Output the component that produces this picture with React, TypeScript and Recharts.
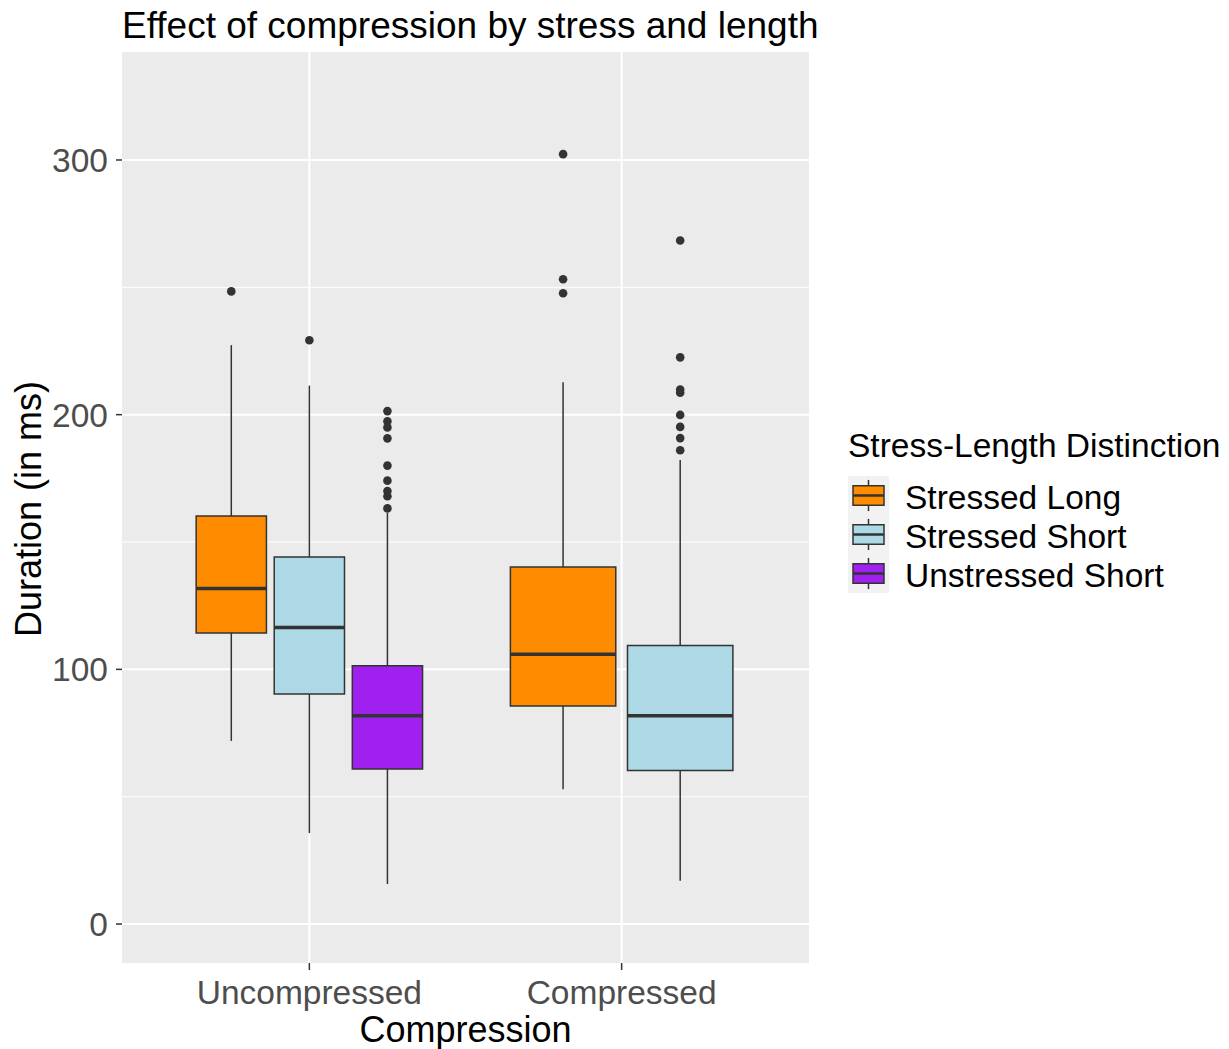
import React from "react";
import {
  ComposedChart,
  XAxis,
  YAxis,
  CartesianGrid,
  ReferenceArea,
  ReferenceLine,
  Scatter,
  Label,
} from "recharts";

const FONT = '"Liberation Sans", Arial, Helvetica, sans-serif';

const groups = ["Uncompressed", "Compressed"];
const seriesNames = ["Stressed Long", "Stressed Short", "Unstressed Short"];
const seriesColors = ["#FF8C00", "#ADD8E6", "#A020F0"];

// [lower whisker, Q1, median, Q3, upper whisker] for each compression group
const stressedLongBoxes = [
  [71.9, 114.3, 131.7, 160.2, 227.3],
  [52.9, 85.6, 105.9, 140.2, 212.7],
];
const stressedShortBoxes = [
  [35.7, 90.3, 116.4, 144.1, 211.4],
  [17.0, 60.3, 81.8, 109.4, 182.2],
];
const unstressedShortBoxes = [[15.7, 60.9, 81.8, 101.4, 161.4], null];

const stressedLongOutliers = [[248.4], [302.3, 253.2, 247.7]];
const stressedShortOutliers = [
  [229.2],
  [268.4, 222.5, 209.9, 208.6, 199.9, 195.2, 190.8, 186.0],
];
const unstressedShortOutliers = [
  [201.4, 197.4, 195.0, 190.7, 180.0, 174.1, 170.0, 168.0, 163.2],
  [],
];

const yTicks = [0, 100, 200, 300];
const yMinor = [50, 150, 250];

const boxesBySeries = [stressedLongBoxes, stressedShortBoxes, unstressedShortBoxes];
const outliersBySeries = [stressedLongOutliers, stressedShortOutliers, unstressedShortOutliers];

// dodge boxes inside each group like position_dodge2 (width 0.75, padding 0.1)
type Box = {
  series: number;
  center: number;
  half: number;
  stats: number[];
  outliers: number[];
};

const boxes: Box[] = [];
groups.forEach((_, g) => {
  const present = seriesNames
    .map((_, s) => s)
    .filter((s) => boxesBySeries[s][g] !== null);
  const slot = 0.75 / present.length;
  present.forEach((s, i) => {
    boxes.push({
      series: s,
      center: g + 1 + (i - (present.length - 1) / 2) * slot,
      half: (slot * 0.9) / 2,
      stats: boxesBySeries[s][g] as number[],
      outliers: outliersBySeries[s][g],
    });
  });
});

const outlierPoints = boxes.flatMap((b) =>
  b.outliers.map((v) => ({ x: b.center, y: v }))
);

const LINE = "#333333";

function LegendKey({ color }: { color: string }) {
  return (
    <svg width={41} height={39} style={{ display: "block" }}>
      <rect x={0} y={0} width={41} height={39} fill="#F2F2F2" />
      <line x1={20.5} x2={20.5} y1={3.9} y2={9.75} stroke={LINE} strokeWidth={1.5} />
      <line x1={20.5} x2={20.5} y1={29.25} y2={35.1} stroke={LINE} strokeWidth={1.5} />
      <rect x={5} y={9.75} width={31} height={19.5} fill={color} stroke={LINE} strokeWidth={1.5} />
      <line x1={5} x2={36} y1={19.5} y2={19.5} stroke={LINE} strokeWidth={2.5} />
    </svg>
  );
}

export default function App() {
  return (
    <div
      style={{
        position: "absolute",
        left: 0,
        top: 0,
        width: 1229,
        height: 1049,
        background: "#fff",
        fontFamily: FONT,
      }}
    >
      <div
        style={{
          position: "absolute",
          left: 122,
          top: 7,
          fontSize: 37,
          lineHeight: "37px",
          color: "#000",
          whiteSpace: "nowrap",
        }}
      >
        Effect of compression by stress and length
      </div>

      <ComposedChart
        width={1229}
        height={1049}
        margin={{ top: 52, right: 420, bottom: 0, left: 0 }}
        style={{ position: "absolute", left: 0, top: 0 }}
      >
        <CartesianGrid
          fill="#EBEBEB"
          stroke="#FFFFFF"
          strokeWidth={1}
          vertical={false}
          horizontalValues={yMinor}
        />
        <CartesianGrid
          stroke="#FFFFFF"
          strokeWidth={2}
          horizontalValues={yTicks}
          verticalValues={[1, 2]}
        />
        <XAxis
          type="number"
          dataKey="x"
          domain={[0.4, 2.6]}
          ticks={[1, 2]}
          allowDataOverflow
          height={86}
          tickFormatter={(v) => groups[Math.round(v) - 1] ?? ""}
          axisLine={false}
          tickSize={7}
          tickMargin={10}
          tickLine={{ stroke: LINE, strokeWidth: 1.5 }}
          tick={{ fill: "#4D4D4D", fontSize: 33.5, fontFamily: FONT }}
        >
          <Label
            content={() => (
              <text
                x={465.5}
                y={1042}
                textAnchor="middle"
                fontSize={36}
                fontFamily={FONT}
                fill="#000"
              >
                Compression
              </text>
            )}
          />
        </XAxis>
        <YAxis
          type="number"
          dataKey="y"
          domain={[-15.3, 342.4]}
          ticks={yTicks}
          allowDataOverflow
          width={122}
          axisLine={false}
          tickSize={6}
          tickMargin={8}
          tickLine={{ stroke: LINE, strokeWidth: 1.5 }}
          tick={{ fill: "#4D4D4D", fontSize: 33.5, fontFamily: FONT }}
        >
          <Label
            content={() => (
              <text
                x={41}
                y={509}
                transform="rotate(-90 41 509)"
                textAnchor="middle"
                fontSize={36}
                fontFamily={FONT}
                fill="#000"
              >
                Duration (in ms)
              </text>
            )}
          />
        </YAxis>

        {boxes.flatMap((b, i) => {
          const [lo, q1, med, q3, hi] = b.stats;
          return [
            <ReferenceLine
              key={`wu${i}`}
              segment={[
                { x: b.center, y: q3 },
                { x: b.center, y: hi },
              ]}
              stroke={LINE}
              strokeWidth={1.5}
            />,
            <ReferenceLine
              key={`wl${i}`}
              segment={[
                { x: b.center, y: lo },
                { x: b.center, y: q1 },
              ]}
              stroke={LINE}
              strokeWidth={1.5}
            />,
            <ReferenceArea
              key={`bx${i}`}
              x1={b.center - b.half}
              x2={b.center + b.half}
              y1={q1}
              y2={q3}
              fill={seriesColors[b.series]}
              fillOpacity={1}
              stroke={LINE}
              strokeWidth={1.5}
            />,
            <ReferenceLine
              key={`md${i}`}
              segment={[
                { x: b.center - b.half, y: med },
                { x: b.center + b.half, y: med },
              ]}
              stroke={LINE}
              strokeWidth={3.5}
            />,
          ];
        })}

        <Scatter
          data={outlierPoints}
          isAnimationActive={false}
          shape={(p: any) => <circle cx={p.cx} cy={p.cy} r={4.3} fill={LINE} />}
        />
      </ComposedChart>

      <div style={{ position: "absolute", left: 848, top: 429 }}>
        <div
          style={{
            fontSize: 33.5,
            lineHeight: "34px",
            color: "#000",
            whiteSpace: "nowrap",
            marginBottom: 13,
          }}
        >
          Stress-Length Distinction
        </div>
        {seriesNames.map((name, i) => (
          <div
            key={name}
            style={{ display: "flex", alignItems: "center", height: 39 }}
          >
            <LegendKey color={seriesColors[i]} />
            <span
              style={{
                marginLeft: 16,
                fontSize: 33.5,
                lineHeight: "34px",
                whiteSpace: "nowrap",
                position: "relative",
                top: 2,
              }}
            >
              {name}
            </span>
          </div>
        ))}
      </div>
    </div>
  );
}
